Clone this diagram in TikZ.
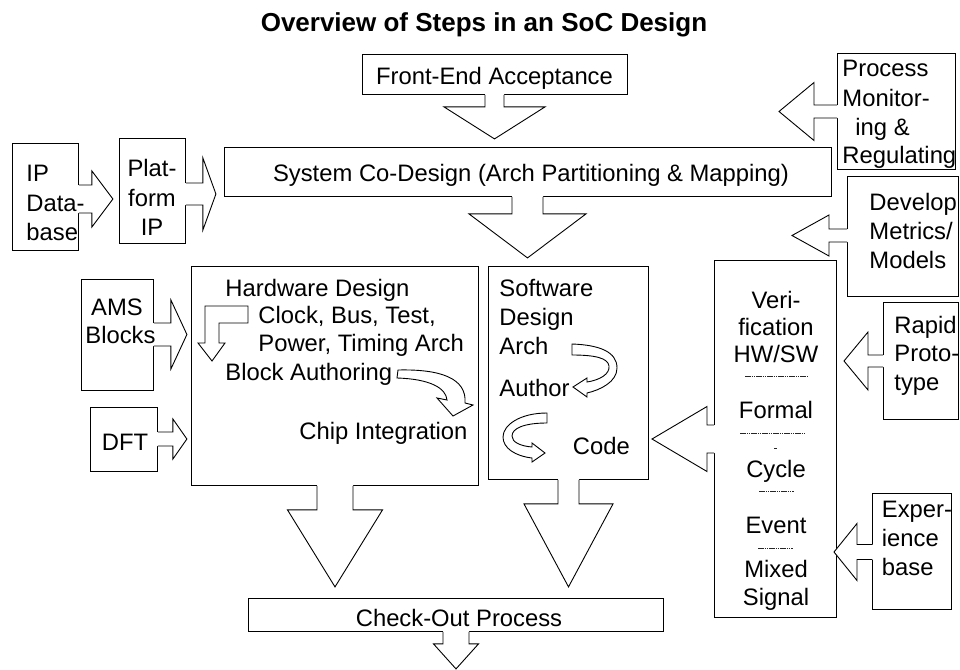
\documentclass[tikz,border=0pt]{standalone}
\usepackage{fontspec}
\setmainfont{Liberation Sans}
\newcommand\bodyfont{\fontsize{23.8}{28}\selectfont}
\newcommand\titlefont{\bfseries\fontsize{26}{30}\selectfont}
% open block arrow: start point on a box edge, direction, shaft half width,
% shaft length, head half width, head length
\newcommand\blockarrow[6]{%
  \begin{scope}[shift={#1}, rotate=#2]
    \fill[white] (-1.5,#3) -- (#4,#3) -- (#4,#5) -- ({#4+#6},0) -- (#4,-#5) -- (#4,-#3) -- (-1.5,-#3) -- cycle;
    \draw[arrowline] (0,#3) -- (#4,#3) -- (#4,#5) -- ({#4+#6},0) -- (#4,-#5) -- (#4,-#3) -- (0,-#3);
  \end{scope}}
\begin{document}
\begin{tikzpicture}[x=1pt, y=-1pt, line width=0.9pt,
  box/.style={draw, fill=white, inner sep=0pt, anchor=north west},
  lbl/.style={inner sep=0pt, anchor=base west, font=\bodyfont},
  clbl/.style={inner sep=0pt, anchor=base, font=\bodyfont},
  arrowline/.style={line join=miter},
  sepline/.style={line width=0.7pt, black!85, dash pattern=on 1.6pt off 0.6pt}]
\useasboundingbox (0,0) rectangle (960,669);

% boxes
\node[box, minimum width=265, minimum height=40]  (fe)   at (362,54)  {};
\node[box, minimum width=607, minimum height=49]  (sys)  at (224,147) {};
\node[box, minimum width=118, minimum height=116] (pm)   at (837,53)  {};
\node[box, minimum width=111, minimum height=120] (dm)   at (847,176) {};
\node[box, minimum width=66,  minimum height=107] (ipdb) at (12,143)  {};
\node[box, minimum width=66,  minimum height=105] (plat) at (119,138) {};
\node[box, minimum width=72,  minimum height=111] (ams)  at (81,279)  {};
\node[box, minimum width=67,  minimum height=64]  (dft)  at (90,407)  {};
\node[box, minimum width=287, minimum height=219] (hw)   at (191,266) {};
\node[box, minimum width=160, minimum height=213] (sw)   at (488,266) {};
\node[box, minimum width=122, minimum height=357] (ver)  at (714,260) {};
\node[box, minimum width=75,  minimum height=117] (rp)   at (883,302) {};
\node[box, minimum width=79,  minimum height=116] (ex)   at (872,493) {};
\node[box, minimum width=415, minimum height=33]  (co)   at (248,598) {};

% block arrows between the steps
\blockarrow{(ipdb.east |- 0,199)}{0}{14}{13}{28}{21}
\blockarrow{(plat.east |- 0,194)}{0}{11}{17}{36}{13}
\blockarrow{(ams.east |- 0,334.5)}{0}{11.5}{17}{34.5}{16}
\blockarrow{(dft.east |- 0,439)}{0}{7}{15}{20}{14}
\blockarrow{(pm.west |- 0,111.5)}{180}{6.5}{23}{29}{35}
\blockarrow{(dm.west |- 0,235.5)}{180}{6.5}{18}{20.5}{37}
\blockarrow{(rp.west |- 0,361)}{180}{6}{15}{29}{24}
\blockarrow{(ex.west |- 0,552)}{180}{7.5}{15}{28.5}{23}
\blockarrow{(ver.west |- 0,439)}{180}{14}{7}{32.5}{55}
\blockarrow{(fe.south -| 494.5,0)}{-90}{9.5}{12}{50.5}{32}
\blockarrow{(sys.south -| 527.5,0)}{-90}{15.5}{17}{58.5}{44}
\blockarrow{(hw.south -| 335,0)}{-90}{18}{24}{47.5}{77}
\blockarrow{(sw.south -| 568.5,0)}{-90}{10.5}{24}{44.5}{83}
\blockarrow{(co.south -| 456,0)}{-90}{13}{12}{22.5}{25}

% flow arrows inside the hardware box
\draw[fill=white, line join=miter] (248,306) -- (205,306) -- (205,343) -- (198,343) -- (212,361)
  -- (225,343) -- (219,343) -- (219,323) -- (248,323) -- cycle;
\draw[fill=white, line join=miter] (398,370) .. controls (440,369) and (467,378) .. (465,403)
  -- (473,405) -- (453,416) -- (437,398) -- (447,400)
  .. controls (446,388) and (430,379) .. (397,378) -- cycle;

% flow arrows inside the software box
\draw[fill=white, line join=miter] (572,344) .. controls (600,345) and (617,352) .. (617,368)
  .. controls (617,382) and (600,390) .. (587,393) -- (587,397) -- (573,387) -- (587,378)
  -- (587,382) .. controls (600,380) and (610,374) .. (609,366)
  .. controls (608,358) and (595,355) .. (572,355) -- cycle;
\draw[fill=white, line join=miter] (547,413) .. controls (520,413) and (503,425) .. (503,437)
  .. controls (503,448) and (515,456) .. (532,458) -- (532,462) -- (545,453) -- (532,443)
  -- (532,447) .. controls (520,446) and (512,442) .. (512,436)
  .. controls (512,428) and (525,423) .. (547,423) -- cycle;

% separators in the verification column
\draw[sepline] (745,376) -- (808,376);
\draw[sepline] (740,433) -- (804,433);
\draw[sepline] (774,448) -- (777,448);
\draw[sepline] (759,491) -- (794,491);
\draw[sepline] (758,548) -- (793,548);

% texts
\node[inner sep=0pt, anchor=base, font=\titlefont] (title) at (484,32) {Overview of Steps in an SoC Design};
\node[clbl] (fet) at (494.5,84) {Front-End Acceptance};
\node[clbl] (syst) at (531,181.5) {System Co-Design (Arch Partitioning \& Mapping)};

\node[lbl] (pm1) at (842,77) {Process};
\node[lbl] (pm2) at (842,106.5) {Monitor-};
\node[lbl] (pm3) at (855,135) {ing \&};
\node[lbl] (pm4) at (842,163) {Regulating};

\node[lbl] (dm1) at (869,210.5) {Develop};
\node[lbl] (dm2) at (869,239.5) {Metrics/};
\node[lbl] (dm3) at (869,268.5) {Models};

\node[lbl] (ip1) at (26,181.5) {IP};
\node[lbl] (ip2) at (26,211.5) {Data-};
\node[lbl] (ip3) at (26,240) {base};

\node[clbl] (pl1) at (152,176.5) {Plat-};
\node[clbl] (pl2) at (152,206.5) {form};
\node[clbl] (pl3) at (152,235) {IP};

\node[clbl] (am1) at (117,315) {AMS};
\node[clbl] (am2) at (120.5,343) {Blocks};
\node[clbl] (df1) at (125,450.5) {DFT};

\node[lbl] (hw1) at (225,296.5) {Hardware Design};
\node[lbl] (hw2) at (258,323.5) {Clock, Bus, Test,};
\node[lbl] (hw3) at (258,351.5) {Power, Timing Arch};
\node[lbl] (hw4) at (225,380) {Block Authoring};
\node[lbl] (hw5) at (299,439.5) {Chip Integration};

\node[lbl] (sw1) at (499,296.5) {Software};
\node[lbl] (sw2) at (499,325) {Design};
\node[lbl] (sw3) at (499,354) {Arch};
\node[lbl] (sw4) at (499,396.5) {Author};
\node[lbl] (sw5) at (572.5,454) {Code};

\node[clbl] (ve1) at (776,308) {Veri-};
\node[clbl] (ve2) at (776,335.5) {fication};
\node[clbl] (ve3) at (776,362) {HW/SW};
\node[clbl] (ve4) at (776,418) {Formal};
\node[clbl] (ve5) at (776,477) {Cycle};
\node[clbl] (ve6) at (776,533) {Event};
\node[clbl] (ve7) at (776,577) {Mixed};
\node[clbl] (ve8) at (776,605) {Signal};

\node[lbl] (rp1) at (894,333) {Rapid};
\node[lbl] (rp2) at (894,361.5) {Proto-};
\node[lbl] (rp3) at (894,390) {type};

\node[lbl] (ex1) at (881.5,517) {Exper-};
\node[lbl] (ex2) at (881.5,546) {ience};
\node[lbl] (ex3) at (881.5,575) {base};

\node[clbl] (cot) at (459,626.5) {Check-Out Process};
\end{tikzpicture}
\end{document}
